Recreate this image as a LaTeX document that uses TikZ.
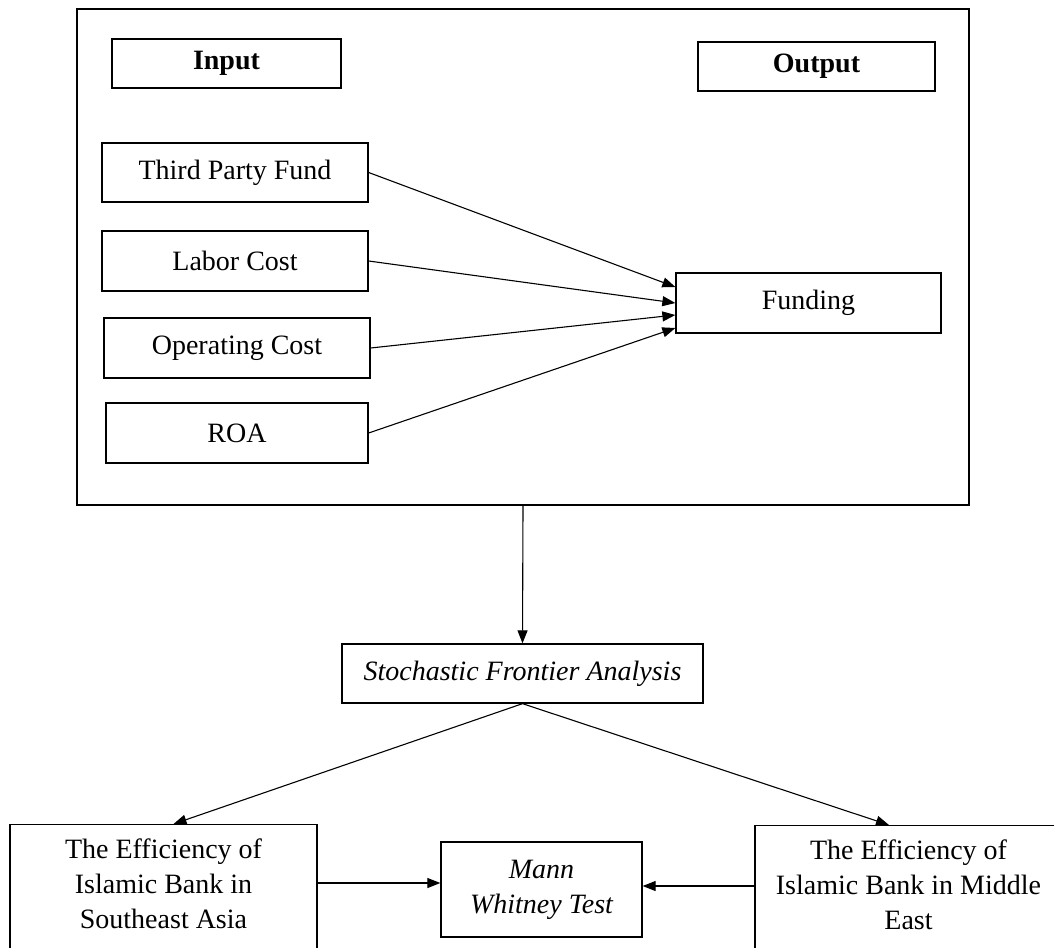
\documentclass[tikz,border=0pt]{standalone}
\usepackage{fontspec}
\setmainfont{Liberation Serif}
\usetikzlibrary{positioning}
\usetikzlibrary{arrows.meta}

\begin{document}
\begin{tikzpicture}[x=1pt,y=-1pt,
	box/.style={draw, line width=1.3pt, rectangle, inner sep=0pt, align=center,
	            font=\fontsize{28}{35}\selectfont},
	ital/.style={font=\fontsize{28}{35}\selectfont\itshape},
	arr/.style={line width=1.1pt, -{Triangle[length=13pt,width=10pt]}}]

	\clip (0,0) rectangle (1054,947);

	%Outer frame
	\node[box, minimum width=892pt, minimum height=496pt] (Frame) at (523,257) {};

	%Headers
	\node[box, minimum width=229pt, minimum height=49pt] (In) at (226.5,63.5) {\bfseries Input};
	\node[box, minimum width=237pt, minimum height=49pt] (Out) at (816.5,66.5) {\bfseries Output};

	%Inputs
	\node[box, minimum width=266pt, minimum height=59pt] (TPF) at (235,172.5) {Third Party Fund};
	\node[box, minimum width=266pt, minimum height=60pt] (Labor) at (235,261) {Labor Cost};
	\node[box, minimum width=266pt, minimum height=60pt] (Oper) at (237,348) {Operating Cost};
	\node[box, minimum width=262pt, minimum height=60pt] (ROA) at (237,433) {ROA};

	%Output
	\node[box, minimum width=265pt, minimum height=60pt] (Fund) at (808.5,303) {Funding};

	%Method
	\node[box, ital, minimum width=361pt, minimum height=59pt] (SFA) at (522.5,673.5) {Stochastic Frontier Analysis};

	%Results
	\node[box, anchor=north, minimum width=307pt, inner ysep=14pt, text depth=40pt] (SEA) at (163.5,824)
		{The Efficiency of\\Islamic Bank in\\Southeast Asia};
	\node[box, anchor=north, minimum width=307pt, inner ysep=14pt, text depth=40pt] (ME) at (908.5,825)
		{The Efficiency of\\Islamic Bank in Middle\\East};
	\node[box, ital, minimum width=201pt, minimum height=95pt] (Mann) at (541.5,889.5) {Mann\\Whitney Test};

	%Arrows
	\draw[arr] (TPF.east) -- ([yshift=16pt]Fund.west);
	\draw[arr] (Labor.east) -- (Fund.west);
	\draw[arr] (Oper.east) -- ([yshift=-12pt]Fund.west);
	\draw[arr] (ROA.east) -- ([yshift=-25pt]Fund.west);
	\draw[arr] (Frame.south) -- (SFA.north);
	\draw[arr] (SFA.south) -- ([xshift=10pt]SEA.north);
	\draw[arr] (SFA.south) -- ([xshift=-19.5pt]ME.north);
	\draw[arr] ([yshift=6.5pt]Mann.west -| SEA.east) -- ([yshift=6.5pt]Mann.west);
	\draw[arr] ([yshift=3.5pt]Mann.east -| ME.west) -- ([yshift=3.5pt]Mann.east);

\end{tikzpicture}
\end{document}
